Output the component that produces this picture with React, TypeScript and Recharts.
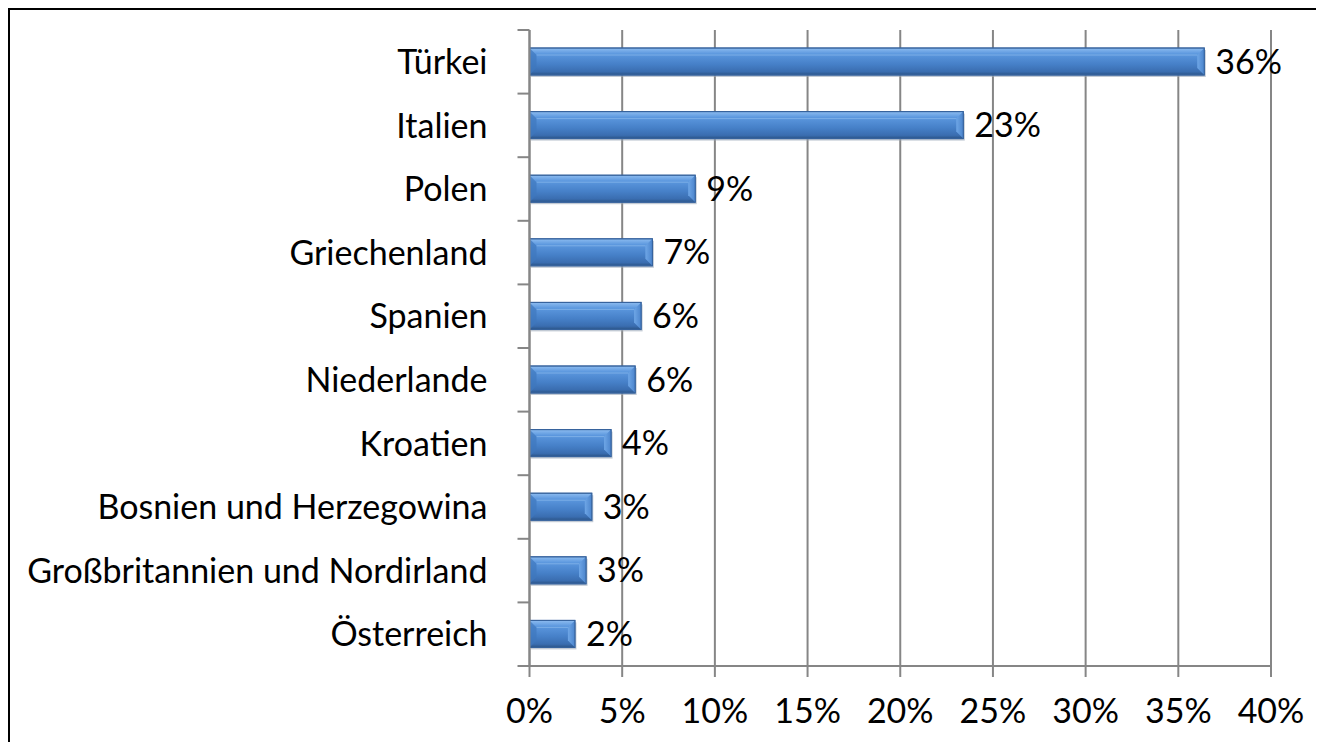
import { BarChart, Bar, XAxis, YAxis, CartesianGrid, LabelList } from "recharts"

const laender = [
  "Türkei",
  "Italien",
  "Polen",
  "Griechenland",
  "Spanien",
  "Niederlande",
  "Kroatien",
  "Bosnien und Herzegowina",
  "Großbritannien und Nordirland",
  "Österreich",
]
const anteile = [0.364, 0.234, 0.0894, 0.0663, 0.0602, 0.057, 0.044, 0.0336, 0.0305, 0.0245]
const xTicks = [0, 0.05, 0.1, 0.15, 0.2, 0.25, 0.3, 0.35, 0.4]

const data = laender.map((land, i) => ({ land, anteil: anteile[i] }))

const W = 1314
const H = 732
const M = { top: 20, right: 53, bottom: 16, left: 0 }
const Y_AXIS_W = 519.5
const X_AXIS_H = 60
const plotH = H - M.top - M.bottom - X_AXIS_H
const band = plotH / laender.length
const FONT = "Lato, 'Open Sans', sans-serif"
const FS = 34
const GRAU = "#868686"

const pct = (v: unknown) => `${Math.round(Number(v) * 100)}%`

function LandTick(props: any) {
  const { x, y, payload, index } = props
  const axisX = x + 8
  return (
    <g>
      <line x1={axisX - 12} x2={axisX} y1={y - band / 2} y2={y - band / 2} stroke={GRAU} strokeWidth={2} />
      {index === laender.length - 1 && (
        <line x1={axisX - 12} x2={axisX} y1={y + band / 2} y2={y + band / 2} stroke={GRAU} strokeWidth={2} />
      )}
      <text x={axisX - 42} y={y} dy="0.36em" textAnchor="end" fontSize={FS} fontFamily={FONT} fill="#000">
        {payload.value}
      </text>
    </g>
  )
}

function BalkenShape(props: any) {
  const { x, y, width, height } = props
  if (!width || width <= 0) return null
  const b = Math.min(7, width / 3)
  return (
    <g>
      <rect x={x + 1.5} y={y + 2} width={width} height={height} fill="#9aa7b8" opacity={0.6} />
      <rect x={x} y={y} width={width} height={height} fill="url(#balkenVerlauf)" stroke="#3a68a3" strokeWidth={1} />
      <polygon
        points={`${x + width},${y} ${x + width - b},${y + b} ${x + width - b},${y + height - b} ${x + width},${y + height}`}
        fill="url(#kappeVerlauf)"
      />
      <polygon points={`${x},${y} ${x + b},${y + b} ${x + b},${y + height - b} ${x},${y + height}`} fill="#3f77be" opacity={0.7} />
      <line x1={x + b} x2={x + width - b} y1={y + b} y2={y + b} stroke="#93c0ef" strokeWidth={1} opacity={0.6} />
      <rect x={x} y={y} width={width} height={height} fill="none" stroke="#36629c" strokeWidth={1} />
    </g>
  )
}

export default function App() {
  return (
    <div style={{ borderLeft: "2px solid #000", borderTop: "2px solid #000", width: W, height: H, overflow: "hidden" }}>
      <BarChart width={W} height={H} data={data} layout="vertical" margin={M} barSize={27}>
        <defs>
          <linearGradient id="balkenVerlauf" x1="0" y1="0" x2="0" y2="1">
            <stop offset="0%" stopColor="#8dbcf0" />
            <stop offset="22%" stopColor="#5b97de" />
            <stop offset="60%" stopColor="#4680c8" />
            <stop offset="88%" stopColor="#3a6db0" />
            <stop offset="100%" stopColor="#2b5487" />
          </linearGradient>
          <linearGradient id="kappeVerlauf" x1="0" y1="0" x2="1" y2="0">
            <stop offset="0%" stopColor="#6ea6e6" />
            <stop offset="100%" stopColor="#4b84cc" />
          </linearGradient>
        </defs>
        <CartesianGrid horizontal={false} stroke={GRAU} strokeWidth={2} />
        <XAxis
          type="number"
          domain={[0, 0.4]}
          ticks={xTicks}
          tickFormatter={pct}
          height={X_AXIS_H}
          stroke={GRAU}
          tickSize={11}
          tickMargin={22}
          axisLine={{ stroke: GRAU, strokeWidth: 2 }}
          tickLine={{ stroke: GRAU, strokeWidth: 2 }}
          tick={{ fill: "#000", fontSize: FS, fontFamily: FONT }}
        />
        <YAxis
          type="category"
          dataKey="land"
          width={Y_AXIS_W}
          tickLine={false}
          axisLine={{ stroke: GRAU, strokeWidth: 2 }}
          tick={<LandTick />}
          interval={0}
        />
        <Bar dataKey="anteil" shape={<BalkenShape />} isAnimationActive={false}>
          <LabelList
            dataKey="anteil"
            position="right"
            offset={11}
            formatter={pct}
            style={{ fill: "#000", fontSize: FS, fontFamily: FONT }}
          />
        </Bar>
      </BarChart>
    </div>
  )
}
